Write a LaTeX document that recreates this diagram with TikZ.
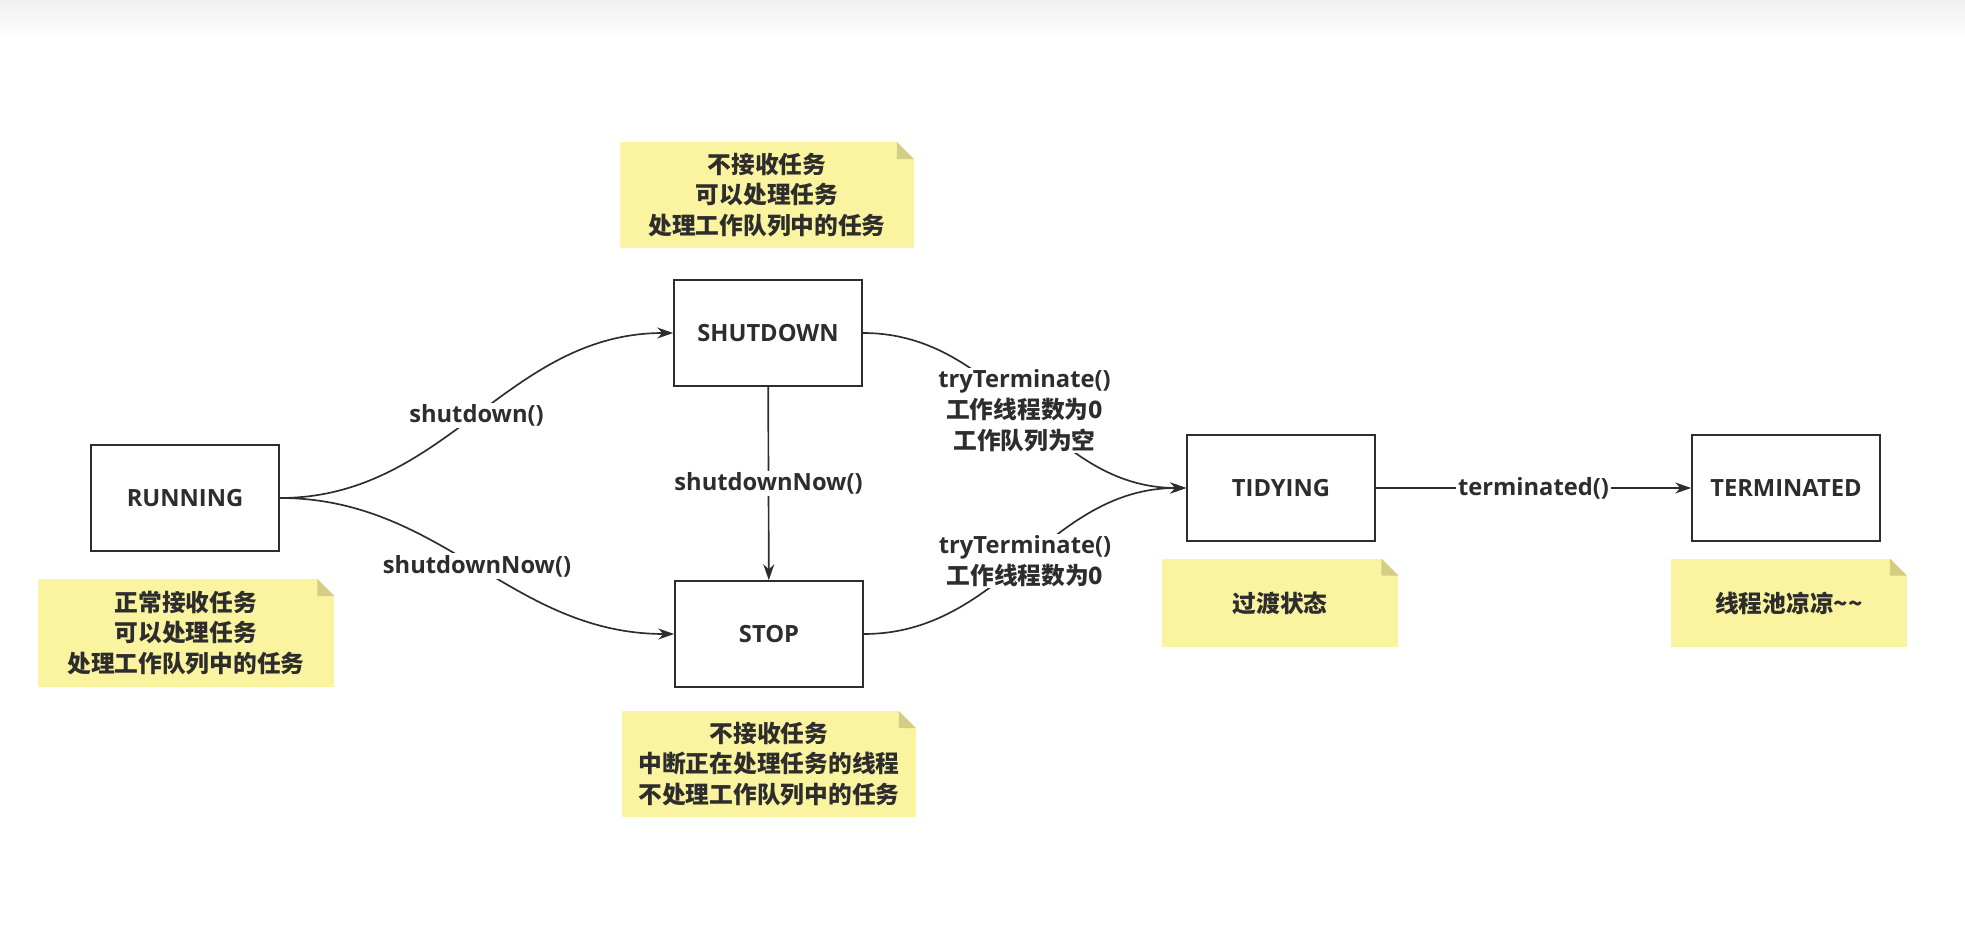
\documentclass[tikz,border=0pt]{standalone}
\usepackage{fontspec}
\setmainfont{Open Sans}
\newfontfamily\zh{Noto Sans CJK SC}
\usepackage{xcolor}
\usepackage{tikz}
\usetikzlibrary{arrows.meta,calc}

\definecolor{linec}{RGB}{45,45,45}
\definecolor{notebg}{RGB}{250,243,160}
\definecolor{notefold}{RGB}{212,205,132}

\begin{document}
\begin{tikzpicture}[
    x=0.02cm, y=-0.02cm,
    txt/.style={font=\fontsize{13.5}{17.5}\selectfont\bfseries, text=linec},
    state/.style={txt, rectangle, draw=linec, line width=0.95pt, minimum width=3.76cm, minimum height=2.12cm},
    note/.style={txt, rectangle, fill=notebg, align=center, inner sep=0pt,
      path picture={
        \fill[white] ([xshift=-0.34cm]path picture bounding box.north east)
          -- (path picture bounding box.north east)
          -- ([yshift=-0.34cm]path picture bounding box.north east) -- cycle;
        \fill[notefold] ([xshift=-0.34cm]path picture bounding box.north east)
          -- ([xshift=-0.34cm,yshift=-0.34cm]path picture bounding box.north east)
          -- ([yshift=-0.34cm]path picture bounding box.north east) -- cycle;
      }},
    arr/.style={-{Stealth[length=3.2mm,width=2.2mm]}, line width=0.95pt, draw=linec},
    lbl/.style={txt, fill=white, align=center, inner sep=1pt}
  ]
    \shade[top color=black!6, bottom color=white] (0,0) rectangle (1965,38);
    \useasboundingbox (0,0) rectangle (1965,945);

    % states
    \node[state] (run) at (185,498) {RUNNING};
    \node[state] (sd) at (768,333) {SHUTDOWN};
    \node[state] (stop) at (769,634) {STOP};
    \node[state] (tidy) at (1281,488) {TIDYING};
    \node[state] (term) at (1786,488) {TERMINATED};

    % notes
    \node[note, minimum width=5.94cm, minimum height=2.16cm] (runnote) at (186,633)
      {\zh 正常接收任务\\\zh 可以处理任务\\\zh 处理工作队列中的任务};
    \node[note, minimum width=5.88cm, minimum height=2.12cm] (sdnote) at (767,195)
      {\zh 不接收任务\\\zh 可以处理任务\\\zh 处理工作队列中的任务};
    \node[note, minimum width=5.88cm, minimum height=2.12cm] (stopnote) at (769,764)
      {\zh 不接收任务\\\zh 中断正在处理任务的线程\\\zh 不处理工作队列中的任务};
    \node[note, minimum width=4.74cm, minimum height=1.78cm] (tidynote) at (1280,603)
      {\zh 过渡状态};
    \node[note, minimum width=4.72cm, minimum height=1.78cm] (termnote) at (1789,603)
      {\zh 线程池凉凉\textasciitilde\textasciitilde};

    % transitions
    \draw[arr] (run.east) to[out=0,in=180] node[lbl] {shutdown()} (sd.west);
    \draw[arr] (run.east) to[out=0,in=180] node[lbl] {shutdownNow()} (stop.west);
    \draw[arr] (sd) -- node[lbl] {shutdownNow()} (stop);
    \draw[arr] (sd.east) to[out=0,in=180]
      node[lbl] {tryTerminate()\\\zh 工作线程数为0\\\zh 工作队列为空} (tidy.west);
    \draw[arr] (stop.east) to[out=0,in=180]
      node[lbl] {tryTerminate()\\\zh 工作线程数为0} (tidy.west);
    \draw[arr] (tidy) -- node[lbl] {terminated()} (term);
\end{tikzpicture}
\end{document}
